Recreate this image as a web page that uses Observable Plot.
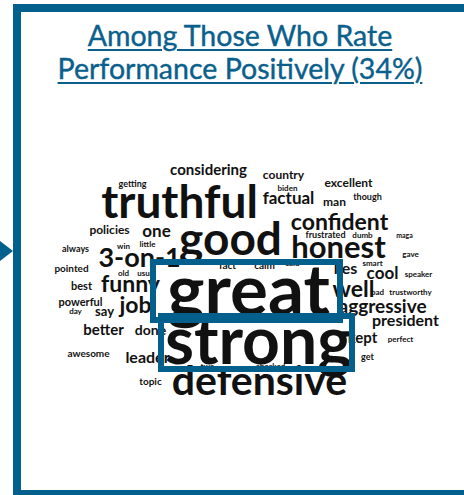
<!DOCTYPE html>
<html>
<head>
<meta charset="utf-8">
<script src="https://cdn.jsdelivr.net/npm/d3@7"></script>
<script src="https://cdn.jsdelivr.net/npm/@observablehq/plot@0.6"></script>
<style>
  html, body { margin: 0; padding: 0; background: #fff; overflow: hidden; }
  #wrap { position: relative; width: 464px; height: 495px; overflow: hidden; }
  #frame { position: absolute; left: 13px; top: 4px; width: 470px; height: 494px;
           border: 8px solid #03608c; border-right: none; box-sizing: border-box; }
  #arrow { position: absolute; left: 0; top: 241px; width: 0; height: 0;
           border-top: 10px solid transparent; border-bottom: 10px solid transparent;
           border-left: 13px solid #03608c; }
  #title { position: absolute; left: 0; width: 480px; top: 19px; text-align: center;
           font-family: Lato, sans-serif; font-weight: 400; font-size: 28.5px; line-height: 33px;
           color: #0b5f8d; text-decoration: underline; text-decoration-thickness: 2px;
           text-underline-offset: 3px; -webkit-text-stroke: 0.4px #0b5f8d; }
  #chart { position: absolute; left: 0; top: 0; }
</style>
</head>
<body>
<div id="wrap">
  <div id="frame"></div>
  <div id="arrow"></div>
  <div id="title">Among Those Who Rate<br>Performance Positively (34%)</div>
  <div id="chart"></div>
</div>
<script>
// Word cloud data: word and relative weight (font size in px)
const words = ["considering","getting","country","biden","excellent","though","factual","man",
  "truthful","confident","frustrated","dumb","maga","policies","one","good","honest","always",
  "win","little","3-on-1","gave","pointed","old","usual","fact","calm","said","lies","smart",
  "cool","speaker","best","funny","great","well","bad","trustworthy","powerful","day","say","job",
  "aggressive","better","done","president","strong","kept","perfect","awesome","leader","get",
  "topic","defensive","two","checked"];
const weights = [15,9,12,8,12,9,17,12,
  46,23,9,8,7,12,17,46,31,9,
  8,8,27,8,10,8,8,10,10,8,16,8,
  17,8,11,23,71,23,8,8,11,8,13,23,
  19,15,14,16,66,15,8,10,16,9,
  10,41,8,8];
// Cloud layout: centre of each word (x) and its vertical middle (y), in page pixels
const wx = [208,132,283,287,348,367,288,334,
  179,339,325,362,404,109,156,230,338,75,
  123,147,139,410,71,123,146,227,264,292,345,372,
  382,418,81,130,248,353,377,410,80,75,104,135,
  382,103,150,405,258,362,400,88,147,367,
  150,259,207,270];
const wy = [170,184,175,188,183,197,198,202,
  203,222,235,235,235,230,231,240,248,249,
  246,244,258,254,268,273,273,265,265,263,268,263,
  273,274,286,284,292,289,292,292,302,311,311,305,
  306,330,330,320,342,338,339,353,357,357,
  381,381,366,366];
// Highlight boxes around "great" and "strong"
const boxWords = ["great","strong"];
const bx1 = [153,161], bx2 = [340,352], by1 = [262,316], by2 = [320,369];

const cloud = words.map((w,i) => ({word: w, weight: weights[i], x: wx[i], y: wy[i]}));
const boxes = boxWords.map((w,i) => ({word: w, x1: bx1[i], x2: bx2[i], y1: by1[i], y2: by2[i]}));

const chart = Plot.plot({
  width: 464, height: 495, margin: 0,
  x: {domain: [0,464], range: [0,464], axis: null},
  y: {domain: [0,495], range: [0,495], axis: null},
  marks: [
    Plot.text(cloud, {x: "x", y: "y", text: "word", fontSize: d => d.weight,
      fill: "#111", fontFamily: "Lato, sans-serif", fontWeight: 700, textAnchor: "middle"}),
    Plot.rect(boxes, {x1: "x1", x2: "x2", y1: "y1", y2: "y2", fill: "none",
      stroke: "#03608c", strokeWidth: 6})
  ]
});
chart.style.background = "transparent";
document.getElementById("chart").appendChild(chart);
</script>
</body>
</html>
